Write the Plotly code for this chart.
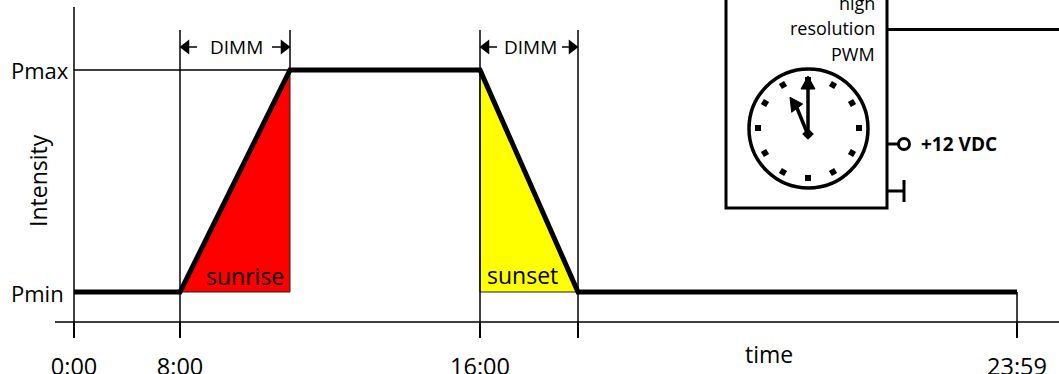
import plotly.graph_objects as go

# the drawing is a schematic, so both axes just run in picture units
ancho = 1059
alto = 374
fuente = 'Open Sans'

# curva de intensidad
tiempo = [74, 180, 290, 480, 578, 1017]
intensidad = [292, 292, 70, 70, 292, 292]

# ramps
sunrise_x = [180, 290, 290, 180]
sunrise_y = [292, 70, 292, 292]
sunset_x = [480, 578, 480, 480]
sunset_y = [70, 292, 292, 70]

tick_x = [74, 180, 480, 578, 1017]
tick_text = ['0:00', '8:00', '16:00', '', '23:59']

# box and clock
caja_x = [726, 726, 887, 887]
caja_y = [-5, 208, 208, -5]
reloj_x = [808.5]
reloj_y = [128.5]
puntos_x = [808, 833, 852, 859, 852, 833, 808, 783, 765, 758, 765, 783]
puntos_y = [80, 85, 103, 128, 153, 172, 178, 172, 153, 128, 103, 85]
puntos_ang = [0, 30, 60, 0, 30, 60, 0, 30, 60, 0, 30, 60]
minutero_x = [808, 808]
minutero_y = [137, 86]
minutero_punta_x = [808, 815, 801, 808]
minutero_punta_y = [76, 89, 89, 76]
horario_x = [808, 797]
horario_y = [135, 108]
horario_punta_x = [790, 791.7, 802.7, 790]
horario_punta_y = [97.3, 112.3, 104, 97.3]
eje_x = [808]
eje_y = [134]

fig = go.Figure()


def linea(x, y, ancho_linea, color='black'):
    fig.add_trace(go.Scatter(x=x, y=y, mode='lines', hoverinfo='skip',
                             line=dict(color=color, width=ancho_linea)))


def relleno(x, y, color, borde, ancho_borde=1):
    fig.add_trace(go.Scatter(x=x, y=y, fill='toself', mode='lines',
                             fillcolor=color, hoverinfo='skip',
                             line=dict(color=borde, width=ancho_borde)))


def texto(x, y, t, size=22, anchor='center', angle=0, bold=False):
    fig.add_annotation(x=x, y=y, text=f'<b>{t}</b>' if bold else t,
                       showarrow=False, xanchor=anchor, yanchor='middle',
                       textangle=angle, borderpad=0,
                       font=dict(family=fuente, size=size, color='black'))


relleno(sunrise_x, sunrise_y, '#ff0000', '#202020')
relleno(sunset_x, sunset_y, '#ffff00', '#202020')

# guias finas
linea([74, 74], [7, 337], 1.5)
linea([55, 1059], [322, 322], 1.5)
linea([74, 290], [70, 70], 1.5)
linea([180, 180], [30, 337], 1.5)
linea([290, 290], [30, 70], 1.5)
linea([480, 480], [30, 337], 1.5)
linea([578, 578], [30, 337], 1.5)
linea([1017, 1017], [292, 337], 1.5)

# DIMM flechas
for xa, xb, xc, xd, xt in [(180, 197, 290, 272, 236), (480, 497, 578, 562, 530)]:
    linea([xa + 6, xb], [47, 47], 1.5)
    linea([xc - 6, xd], [47, 47], 1.5)
    fig.add_trace(go.Scatter(x=[xa + 6, xc - 6], y=[47, 47], mode='markers',
                             hoverinfo='skip',
                             marker=dict(symbol=['triangle-left', 'triangle-right'],
                                         size=13, color='black')))
    texto(xt, 47, 'DIMM', size=19)

# curva principal
linea(tiempo, intensidad, 5)

# caja
linea(caja_x, caja_y, 3)
linea([887, 1059], [29.5, 29.5], 3)
linea([887, 898], [144, 144], 3)
linea([887, 904], [191, 191], 3)
linea([904, 904], [180, 202], 3)
fig.add_trace(go.Scatter(x=[904], y=[144], mode='markers', hoverinfo='skip',
                         marker=dict(size=11, color='white',
                                     line=dict(color='black', width=3))))

# reloj
fig.add_trace(go.Scatter(x=reloj_x, y=reloj_y, mode='markers', hoverinfo='skip',
                         marker=dict(size=119, color='white',
                                     line=dict(color='black', width=3.5))))
fig.add_trace(go.Scatter(x=puntos_x, y=puntos_y, mode='markers', hoverinfo='skip',
                         marker=dict(symbol='square', size=6, color='black',
                                     angle=puntos_ang)))
linea(minutero_x, minutero_y, 3.5)
linea(horario_x, horario_y, 3.5)
relleno(minutero_punta_x, minutero_punta_y, 'black', 'black')
relleno(horario_punta_x, horario_punta_y, 'black', 'black')
fig.add_trace(go.Scatter(x=eje_x, y=eje_y, mode='markers', hoverinfo='skip',
                         marker=dict(symbol='diamond', size=9, color='black')))

# textos
texto(10, 70, 'Pmax', anchor='left')
texto(10, 292.5, 'Pmin', anchor='left')
texto(38, 181, 'Intensity', size=23, angle=-90)
texto(245, 276, 'sunrise', size=23)
texto(522, 275, 'sunset', size=23)
texto(769, 354, 'time', size=23)
texto(876, 3, 'high', size=18, anchor='right')
texto(876, 28, 'resolution', size=18, anchor='right')
texto(876, 54, 'PWM', size=18, anchor='right')
texto(920, 144, '+12 VDC', size=19, anchor='left', bold=True)

fig.update_layout(width=ancho, height=alto, showlegend=False,
                  margin=dict(l=0, r=0, t=0, b=0),
                  plot_bgcolor='white', paper_bgcolor='white')
fig.update_xaxes(range=[0, ancho], showgrid=False, zeroline=False, showline=False,
                 tickmode='array', tickvals=tick_x, ticktext=tick_text,
                 ticks='outside', ticklen=15, tickwidth=1.5, tickcolor='black',
                 anchor='free', position=(alto - 322) / alto, ticklabelstandoff=9,
                 automargin=False,
                 tickfont=dict(family=fuente, size=23.5, color='black'))
fig.update_yaxes(range=[alto, 0], visible=False, automargin=False)

# quitar el margen del body para que el dibujo parta en 0,0
fig.write_html('out.html', config={'displayModeBar': False},
               post_script="document.body.style.margin = '0';")
